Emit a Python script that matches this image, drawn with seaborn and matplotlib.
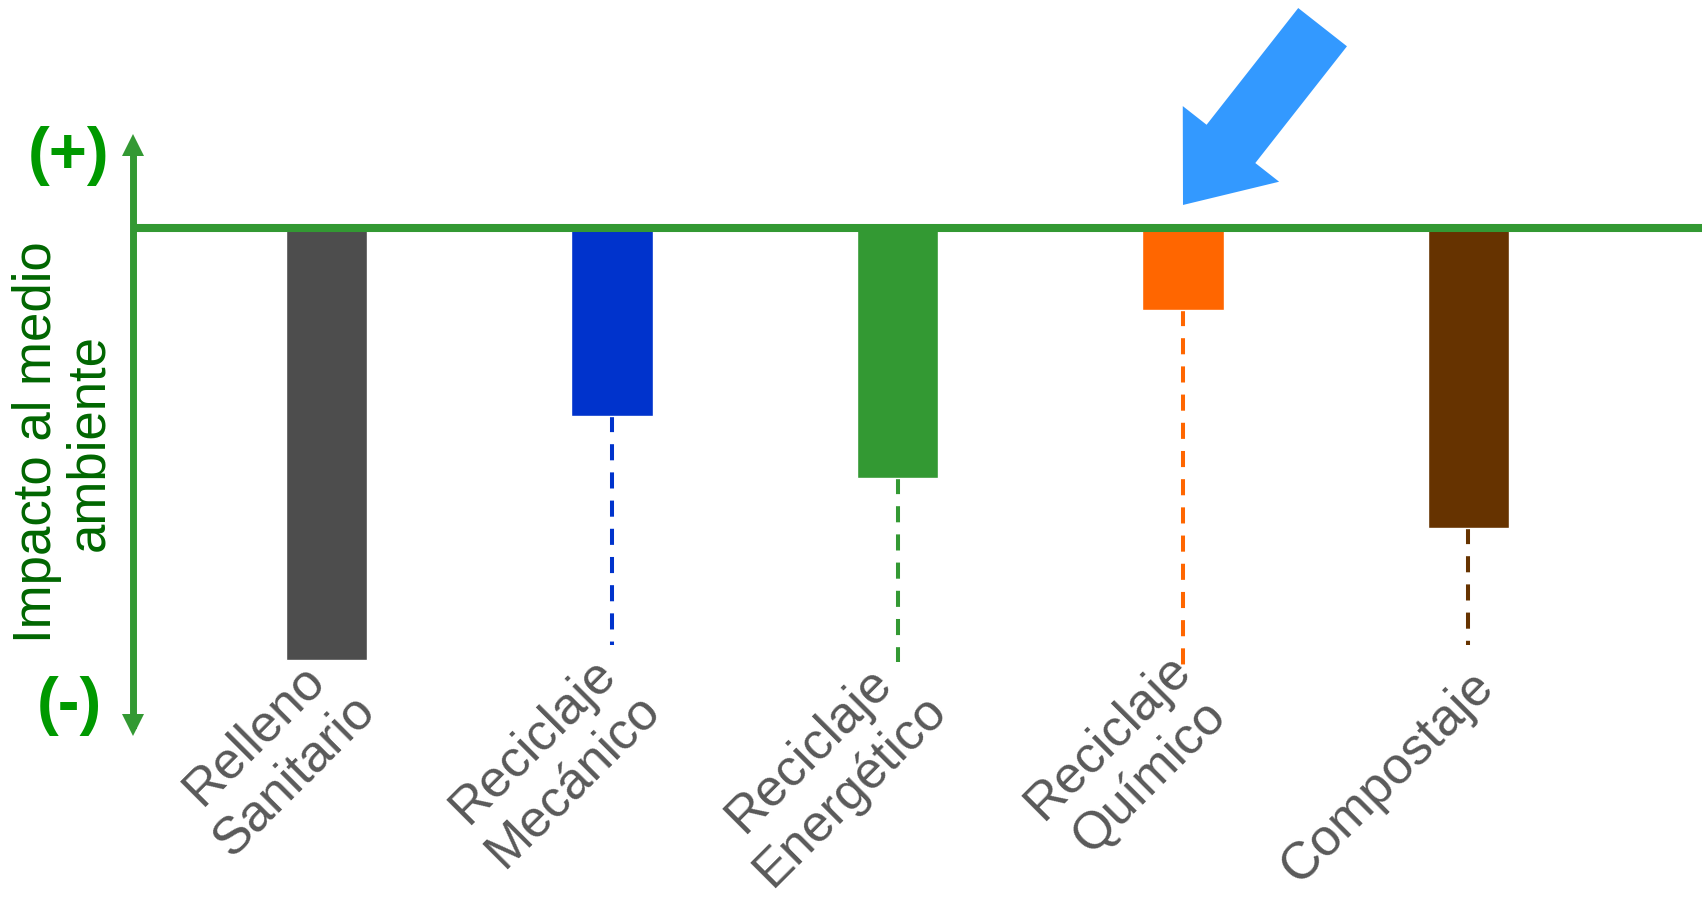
import numpy as np
import seaborn as sns
import pandas as pd
import matplotlib.pyplot as plt
from matplotlib.transforms import ScaledTranslation

# datos (unidades arbitrarias, 0 = sin impacto)
categorias = ["Relleno\nSanitario", "Reciclaje\nMecánico", "Reciclaje\nEnergético",
              "Reciclaje\nQuímico", "Compostaje"]
impacto = [-10.0, -4.35, -5.8, -1.9, -6.95]
impacto_min = [np.nan, -9.65, -10.04, -10.19, -9.65]
colores = ["#4d4d4d", "#0033cc", "#339933", "#ff6600", "#663300"]

verde = "#339933"

sns.set_style("white")
plt.rcParams['font.family'] = ['Liberation Sans', 'DejaVu Sans']

W, H = 1707, 898
fig = plt.figure(figsize=(W / 100, H / 100), dpi=100)
# axes in pixels: left 133, right 1702, top 144.5, bottom 725
ax = fig.add_axes([133 / W, (H - 725) / H, (1702 - 133) / W, (725 - 144.5) / H])

df = pd.DataFrame({"proceso": categorias, "impacto": impacto})
sns.barplot(data=df, x="proceso", y="impacto", hue="proceso", palette=colores,
            width=0.284, saturation=1, errorbar=None, legend=False, ax=ax, zorder=2)

# lineas punteadas (rango)
for i, (top, bot, c) in enumerate(zip(impacto, impacto_min, colores)):
    if np.isnan(bot):
        continue
    ax.plot([i, i], [top, bot], color=c, lw=2.9, linestyle=(0, (4.0, 3.0)),
            dash_capstyle="butt", zorder=1)

ax.axhline(0, color=verde, lw=5.8, zorder=3)

ax.set_xlim(-0.678, 4.818)
ax.set_ylim(-11.51, 1.93)
ax.set_yticks([])
ax.set_xlabel("")

for s in ["top", "right", "bottom"]:
    ax.spines[s].set_visible(False)
ax.spines["left"].set_color(verde)
ax.spines["left"].set_linewidth(5)
ax.plot(0, 1, "^", transform=ax.transAxes, clip_on=False, ms=16.5, color=verde, mew=0)
ax.plot(0, 0, "v", transform=ax.transAxes, clip_on=False, ms=16.5, color=verde, mew=0)

ax.set_ylabel("Impacto al medio\nambiente", color="#006600", fontsize=38,
              va="center", linespacing=1.05)
ax.yaxis.set_label_coords(-0.0446, 0.4875)

ax.tick_params(axis="x", length=0, pad=0, labelsize=37.5, labelcolor="#595959")
off = ScaledTranslation(14 / 100, 50 / 100, fig.dpi_scale_trans)
for lbl in ax.get_xticklabels():
    lbl.set_rotation(45)
    lbl.set_ha("right")
    lbl.set_va("center_baseline")
    lbl.set_rotation_mode("anchor")
    lbl.set_multialignment("center")
    lbl.set_linespacing(1.22)
    lbl.set_transform(lbl.get_transform() + off)

fig.text(68.6 / W, 1 - 155.7 / H, "(+)", color="#009900", fontsize=47,
         fontweight="bold", ha="center", va="center")
fig.text(69 / W, 1 - 706 / H, "(-)", color="#009900", fontsize=47,
         fontweight="bold", ha="center", va="center")

# flecha azul senalando el reciclaje quimico
ax.annotate("", xy=(3, 0.53), xytext=(139.6, 177.8), textcoords="offset pixels",
            annotation_clip=False,
            arrowprops=dict(arrowstyle="simple,head_length=55.9,head_width=88.2,tail_width=44.6",
                            mutation_scale=1, color="#3399ff", shrinkA=0, shrinkB=0, lw=0))

fig.savefig("out.png", dpi=100)
